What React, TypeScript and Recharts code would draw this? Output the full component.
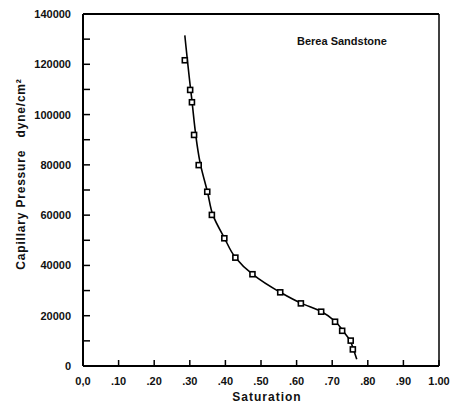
import { ComposedChart, XAxis, YAxis, Line, Scatter, ReferenceLine, Label } from 'recharts'

// measured points (saturation, capillary pressure dyne/cm²)
const saturation = [0.286, 0.301, 0.306, 0.312, 0.325, 0.349, 0.362, 0.397, 0.428, 0.476, 0.554, 0.612, 0.669, 0.708, 0.728, 0.752, 0.758]
const pressure = [121600, 109800, 104900, 91900, 79900, 69300, 60100, 50800, 43100, 36500, 29300, 24900, 21600, 17600, 14000, 10100, 6600]

// drawn curve, bottom to top
const curveSaturation = [0.769, 0.76, 0.75, 0.73, 0.708, 0.669, 0.612, 0.554, 0.476, 0.428, 0.397, 0.365, 0.35, 0.331, 0.304, 0.286]
const curvePressure = [2700, 6500, 10200, 14000, 17800, 21700, 25000, 29300, 36500, 43200, 51000, 60000, 69000, 79500, 108000, 131500]

const xTicks = [0, 0.1, 0.2, 0.3, 0.4, 0.5, 0.6, 0.7, 0.8, 0.9, 1]
const xTickLabels = ['0,0', '.10', '.20', '.30', '.40', '.50', '.60', '.70', '.80', '.90', '1.00']
const yTicks = [0, 10000, 20000, 30000, 40000, 50000, 60000, 70000, 80000, 90000, 100000, 110000, 120000, 130000, 140000]

const points = saturation.map((s, i) => ({ s, p: pressure[i] }))
const curve = curveSaturation.map((s, i) => ({ s, p: curvePressure[i] }))

const font = '"Liberation Sans", Arial, sans-serif'

const XTick = ({ x, y, index }: any) => (
  <g>
    <line x1={x} x2={x} y1={y} y2={y - 6} stroke="#000" strokeWidth={1.5} />
    <text x={x} y={y + 19} textAnchor="middle" fontFamily={font} fontSize={11} fontWeight={700} fill="#111">
      {xTickLabels[index]}
    </text>
  </g>
)

const YTick = ({ x, y, payload }: any) => (
  <g>
    <line x1={x} x2={x + 7} y1={y} y2={y} stroke="#000" strokeWidth={1.5} />
    {payload.value % 20000 === 0 && (
      <text x={x - 12} y={y + 4} textAnchor="end" fontFamily={font} fontSize={11} fontWeight={700} fill="#111">
        {payload.value}
      </text>
    )}
  </g>
)

const YTitle = () => (
  <text
    x={25}
    y={174}
    transform="rotate(-90 25 174)"
    textAnchor="middle"
    fontFamily={font}
    fontSize={12}
    fontWeight={700}
    letterSpacing={0.8}
    fill="#111"
    style={{ whiteSpace: 'pre' }}
  >
    {'Capillary Pressure   dyne/cm²'}
  </text>
)

const XTitle = () => (
  <text x={267} y={401} textAnchor="middle" fontFamily={font} fontSize={12} fontWeight={700} letterSpacing={1} fill="#111">
    Saturation
  </text>
)

const SquareMarker = ({ cx, cy }: any) => (
  <rect x={cx - 2.5} y={cy - 2.5} width={5} height={5} fill="#fff" stroke="#000" strokeWidth={1.6} />
)

const App = () => {
  return (
    <div style={{ position: 'absolute', left: 0, top: 0, width: 457, height: 408, background: '#fff' }}>
      <ComposedChart width={457} height={408} margin={{ top: 14, right: 18, left: 0, bottom: 0 }}>
        <XAxis
          type="number"
          dataKey="s"
          domain={[0, 1]}
          ticks={xTicks}
          interval={0}
          height={42}
          tickSize={0}
          tickMargin={0}
          tick={<XTick />}
          axisLine={{ stroke: '#000', strokeWidth: 2 }}
        >
          <Label content={<XTitle />} />
        </XAxis>
        <YAxis
          type="number"
          dataKey="p"
          domain={[0, 140000]}
          ticks={yTicks}
          interval={0}
          width={83}
          tickSize={0}
          tickMargin={0}
          tick={<YTick />}
          axisLine={{ stroke: '#000', strokeWidth: 2 }}
        >
          <Label content={<YTitle />} />
        </YAxis>
        <ReferenceLine y={140000} stroke="#000" strokeWidth={2} />
        <ReferenceLine x={1} stroke="#000" strokeWidth={1.5} />
        <Line
          data={curve}
          dataKey="p"
          type="monotoneY"
          stroke="#000"
          strokeWidth={1.6}
          dot={false}
          activeDot={false}
          isAnimationActive={false}
        />
        <Scatter data={points} dataKey="p" shape={<SquareMarker />} isAnimationActive={false} />
      </ComposedChart>
      <div
        style={{
          position: 'absolute',
          left: 297,
          top: 35,
          fontFamily: font,
          fontSize: 11,
          fontWeight: 700,
          color: '#111',
          whiteSpace: 'nowrap',
        }}
      >
        Berea Sandstone
      </div>
    </div>
  )
}

export default App
